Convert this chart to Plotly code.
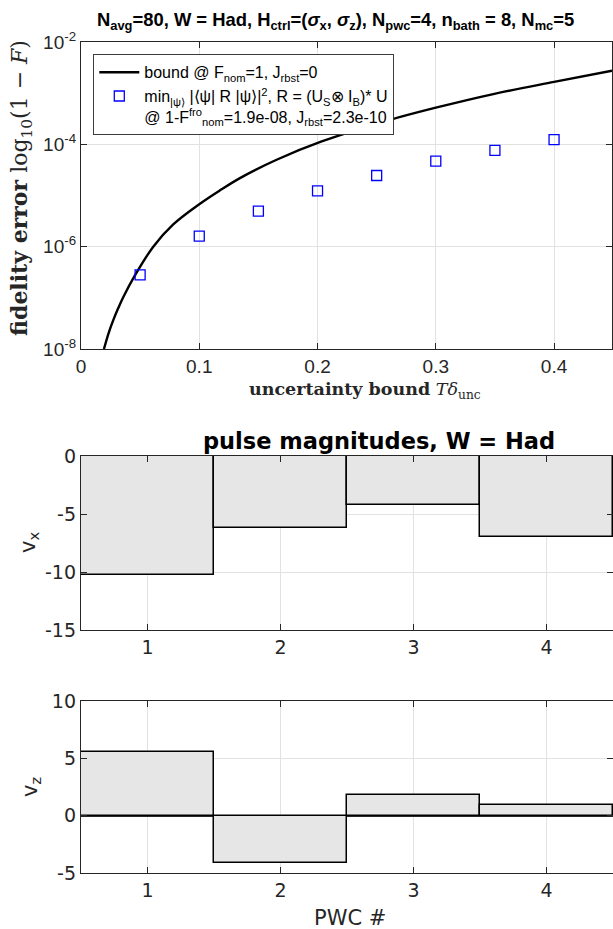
import plotly.graph_objects as go

# ---------------- data ----------------
# bound curve
bound_x = [0.0194, 0.0235, 0.0273, 0.0315, 0.0358, 0.0456, 0.0611, 0.078, 0.10, 0.1175, 0.1344,
           0.1654, 0.2035, 0.26, 0.30, 0.3486, 0.40, 0.449]
bound_y = [1.0e-8, 2.1e-8, 3.66e-8, 6.3e-8, 1.04e-7, 2.74e-7, 1.0e-6, 2.72e-6, 6.76e-6, 1.26e-5, 2.19e-5,
           5.0e-5, 1.14e-4, 2.95e-4, 5.2e-4, 9.6e-4, 1.66e-3, 2.75e-3]

# measured fidelity errors
unc_x = [0.05, 0.10, 0.15, 0.20, 0.25, 0.30, 0.35, 0.40]
fid_err = [2.8e-7, 1.6e-6, 4.95e-6, 1.23e-5, 2.46e-5, 4.7e-5, 7.6e-5, 1.24e-4]

# pulse magnitudes
pwc = [1, 2, 3, 4]
v_x = [-10.3, -6.18, -4.22, -6.98]
v_z = [5.55, -4.13, 1.77, 0.93]

top_yticks = [1e-8, 1e-6, 1e-4, 1e-2]
top_yticklabels = ["10<sup>-8</sup>", "10<sup>-6</sup>", "10<sup>-4</sup>", "10<sup>-2</sup>"]
top_xticks = [0, 0.1, 0.2, 0.3, 0.4]
top_xticklabels = ["0", "0.1", "0.2", "0.3", "0.4"]
vx_ticks = [-15, -10, -5, 0]
vx_ticklabels = ["-15", "-10", "-5", "0"]
vz_ticks = [-5, 0, 5, 10]
vz_ticklabels = ["-5", "0", "5", "10"]

W, H = 613, 929


def px(x):
    return x / W


def py(y):
    return 1 - y / H


AX = "#262626"
GRID = "#e2e2e2"
BARFILL = "#e6e6e6"

fig = go.Figure()

fig.add_trace(go.Scatter(
    x=bound_x, y=bound_y, mode="lines", line=dict(color="black", width=2.4, shape="spline"),
    name="bound @ F<sub>nom</sub>=1, J<sub>rbst</sub>=0", xaxis="x", yaxis="y"))
fig.add_trace(go.Scatter(
    x=unc_x, y=fid_err, mode="markers",
    marker=dict(symbol="square-open", color="#0000ff", size=10, line=dict(width=1.3)),
    name=("min<sub>|ψ⟩</sub> |⟨ψ| R |ψ⟩|<sup>2</sup>, R = (U<sub>S</sub>⊗ I<sub>B</sub>)* U"
          "<br>@ 1-F<sup>fro</sup><sub>nom</sub>=1.9e-08, J<sub>rbst</sub>=2.3e-10"),
    xaxis="x", yaxis="y"))

fig.add_trace(go.Bar(x=pwc, y=v_x, width=1, marker=dict(color=BARFILL, line=dict(color="black", width=1.5)),
                     showlegend=False, xaxis="x2", yaxis="y2"))
fig.add_trace(go.Bar(x=pwc, y=v_z, width=1, marker=dict(color=BARFILL, line=dict(color="black", width=1.5)),
                     showlegend=False, xaxis="x3", yaxis="y3"))

helv = "Liberation Sans, Arial, sans-serif"
dvs = "DejaVu Sans, sans-serif"

common_ax = dict(showline=True, linecolor=AX, linewidth=1.3, mirror="ticks", ticks="inside",
                 ticklen=6, tickcolor=AX, showgrid=True, gridcolor=GRID, gridwidth=1, zeroline=False,
                 automargin=False)

fig.update_layout(
    width=W, height=H, margin=dict(l=0, r=0, t=0, b=0, autoexpand=False),
    paper_bgcolor="white", plot_bgcolor="white",
    showlegend=True,
    legend=dict(x=px(93), y=py(54), xanchor="left", yanchor="top", bgcolor="white",
                bordercolor="#3c3c3c", borderwidth=1.3, font=dict(family=helv, size=16, color="black"),
                itemwidth=40, valign="top", tracegroupgap=4),
    xaxis=dict(domain=[px(81), px(612)], range=[0, 0.449], tickvals=top_xticks,
               ticktext=top_xticklabels,
               tickfont=dict(family=helv, size=19, color=AX), anchor="y", **common_ax),
    yaxis=dict(domain=[py(349), py(42)], type="log", range=[-8, -2], tickvals=top_yticks,
               ticktext=top_yticklabels, tickfont=dict(family=helv, size=19, color=AX),
               anchor="x", **common_ax),
    xaxis2=dict(domain=[px(81), 1], range=[0.5, 4.5], tickvals=pwc,
                tickfont=dict(family=dvs, size=19, color=AX), anchor="y2", **common_ax),
    yaxis2=dict(domain=[py(630), py(456)], range=[-15, 0], tickvals=vx_ticks, ticktext=vx_ticklabels,
                tickfont=dict(family=dvs, size=19, color=AX), anchor="x2", **common_ax),
    xaxis3=dict(domain=[px(81), 1], range=[0.5, 4.5], tickvals=pwc,
                tickfont=dict(family=dvs, size=19, color=AX), anchor="y3", **common_ax),
    yaxis3=dict(domain=[py(873), py(701)], range=[-5, 10], tickvals=vz_ticks, ticktext=vz_ticklabels,
                tickfont=dict(family=dvs, size=19, color=AX), anchor="x3", **common_ax),
    bargap=0,
)
fig.layout.yaxis3.zeroline = True
fig.layout.yaxis3.zerolinecolor = "#262626"
fig.layout.yaxis3.zerolinewidth = 1.5

ann = [
    dict(x=px(335), y=py(21), text=("<b>N<sub>avg</sub>=80, W = Had, H<sub>ctrl</sub>=(<i>σ</i><sub>x</sub>, <i>σ</i><sub>z</sub>), "
                                    "N<sub>pwc</sub>=4, n<sub>bath</sub> = 8, N<sub>mc</sub>=5</b>"),
         font=dict(family=helv, size=18.4, color="black")),
    dict(x=px(365), y=py(390), text="<b>uncertainty bound</b> <i>T</i><i>δ</i><sub>unc</sub>",
         font=dict(family="DejaVu Serif, serif", size=17.5, color="#262626")),
    dict(x=px(21), y=py(188), text="<b>fidelity error</b> log<sub>10</sub>(1 − <i>F</i>)", textangle=-90,
         font=dict(family="DejaVu Serif, serif", size=22, color="#262626")),
    dict(x=px(379), y=py(441), text="<b>pulse magnitudes, W = Had</b>",
         font=dict(family=dvs, size=22.5, color="black")),
    dict(x=px(29), y=py(543), text="v<sub>x</sub>", textangle=-90,
         font=dict(family=dvs, size=21, color="#262626")),
    dict(x=px(31), y=py(787), text="v<sub>z</sub>", textangle=-90,
         font=dict(family=dvs, size=21, color="#262626")),
    dict(x=px(350), y=py(918), text="PWC #",
         font=dict(family=dvs, size=21, color="#262626")),
]
for a in ann:
    a.update(xref="paper", yref="paper", showarrow=False, xanchor="center", yanchor="middle")
fig.update_layout(annotations=ann)

fig.write_html("out.html", config={"displayModeBar": False},
               post_script="document.body.style.margin='0px';document.body.style.overflow='hidden';")
